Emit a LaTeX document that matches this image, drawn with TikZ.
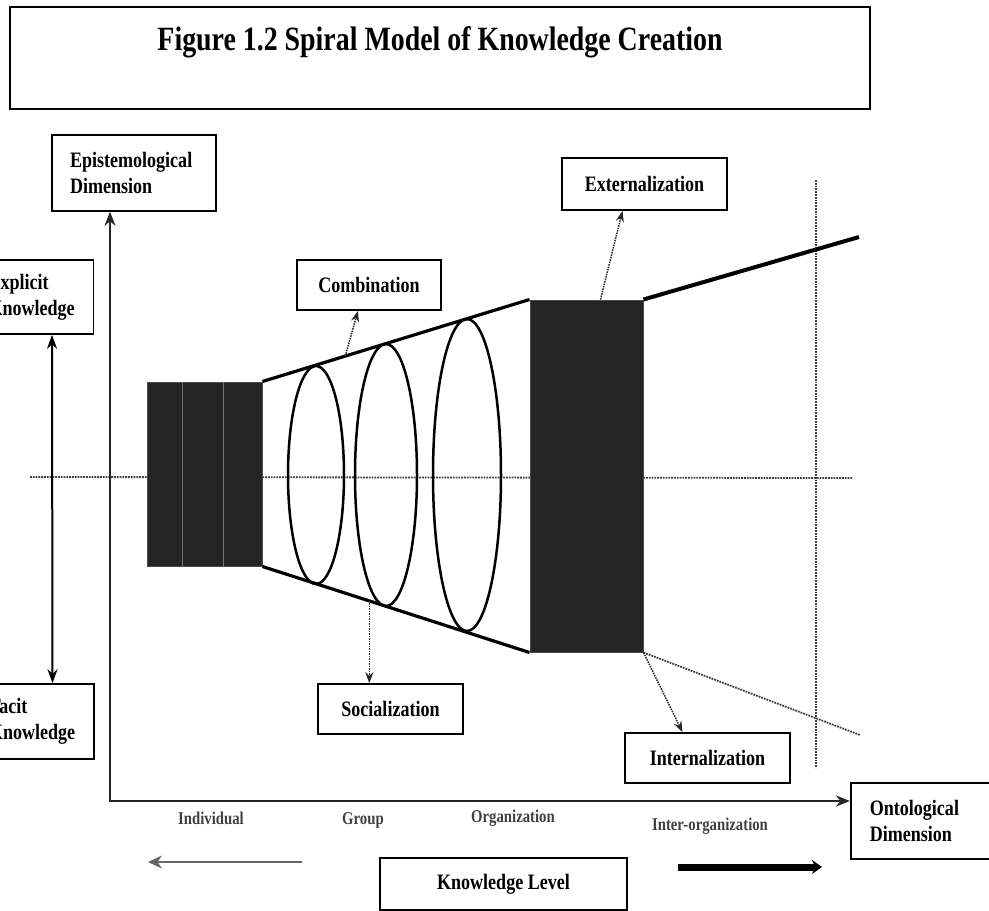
\documentclass[tikz,border=0pt]{standalone}
\usepackage{fontspec}
\setmainfont{Liberation Serif}[FakeStretch=0.82]
\usetikzlibrary{arrows.meta,calc}

\begin{document}
\begin{tikzpicture}[x=1pt, y=-1pt,
            box/.style = {draw, line width=1.6pt, font=\fontsize{22}{26}\selectfont\bfseries, inner sep=0pt},
            twoline/.style = {box, align=left, inner xsep=19pt},
            block/.style = {fill=black!86, draw=black!70, line width=1pt, inner sep=0pt},
            guide/.style = {densely dotted, line width=1.8pt, black!75},
            hint/.style = {densely dotted, line width=1.5pt, black!85, -{Stealth[length=11pt,width=8pt]}},
            level/.style = {font=\fontsize{18}{21}\selectfont\bfseries, text=black!75}]
            \useasboundingbox (0,0) rectangle (989,911);
            \node[box, minimum width=860pt, minimum height=102pt] (frame) at (440,58) {};
            \node[font=\fontsize{34}{40}\selectfont\bfseries] (title) at (440,42) {Figure 1.2 Spiral Model of Knowledge Creation};
            \node[twoline, text width=128pt, inner xsep=18pt, minimum height=76pt] (epi) at (134,173) {Epistemological\\Dimension};
            \node[twoline, text width=86pt, minimum height=74pt] (exp) at (31.5,297) {Explicit\\Knowledge};
            \node[twoline, text width=86pt, minimum height=75pt] (tac) at (32,721.5) {Tacit\\Knowledge};
            \node[twoline, text width=112pt, minimum height=76pt, anchor=west] (ont) at (850,821) {Ontological\\Dimension};
            \node[box, minimum width=144pt, minimum height=50pt] (comb) at (369,285) {Combination};
            \node[box, minimum width=165pt, minimum height=52pt] (ext) at (644.5,184) {Externalization};
            \node[box, minimum width=145pt, minimum height=50pt] (soc) at (390.5,709) {Socialization};
            \node[box, minimum width=165pt, minimum height=50pt] (int) at (707.5,758) {Internalization};
            \node[box, minimum width=247pt, minimum height=52pt] (lev) at (503.5,884) {Knowledge Level};
            \coordinate (origin) at (110,801);
            \coordinate (topend) at (859,237);
            \coordinate (lowend) at (860,735);
            \coordinate (midl) at (30,477);
            \coordinate (midr) at (853,478);
            \coordinate (vtop) at (816,180);
            \coordinate (vbot) at (816,768);
            \coordinate (lefta) at (302,862);
            \coordinate (leftb) at (148,862);
            \coordinate (righta) at (678,867);
            \coordinate (rightb) at (822,867);
            \draw[guide] (midl) -- (midr);
            \draw[guide] (vtop) -- (vbot);
            \foreach \cx/\rx/\ry in {316/28/109, 386/31/131, 467/34/156}
                \draw[line width=2.5pt] (\cx,475) ellipse [x radius=\rx, y radius=\ry];
            \node[block, minimum width=115pt, minimum height=184pt] (small) at (204.5,474) {};
            \node[block, minimum width=113pt, minimum height=352pt] (big) at (586.5,476) {};
            \foreach \f in {0.31,0.66}
                \draw[black!55, line width=1pt] ($(small.north west)!\f!(small.north east)$) -- ($(small.south west)!\f!(small.south east)$);
            \draw[line width=3.2pt] (small.north east) -- (big.north west);
            \draw[line width=3.2pt] (small.south east) -- (big.south west);
            \draw[line width=4pt] (big.north east) -- (topend);
            \draw[guide] (big.south east) -- (lowend);
            \coordinate (combpt) at ($(small.north east)!0.31!(big.north west)$);
            \coordinate (socpt) at ($(small.south east)!0.40!(big.south west)$);
            \draw[hint] (combpt) -- ([xshift=-11pt]comb.south);
            \draw[hint] ([xshift=14pt]big.north) -- ([xshift=-22pt]ext.south);
            \draw[hint] (socpt) -- (socpt |- soc.north);
            \draw[hint] (big.south east) -- ([xshift=-25pt]int.north);
            \draw[line width=2.4pt, black!85, {Stealth[length=14pt,width=11pt]}-{Stealth[length=14pt,width=11pt]}] (epi.south -| origin) -- (origin) -- (origin -| ont.west);
            \draw[line width=2pt, {Stealth[length=14pt,width=10pt]}-{Stealth[length=14pt,width=10pt]}] ([xshift=20.5pt]exp.south) -- ([xshift=20.5pt]tac.north);
            \node[level] (ind) at (211,818) {Individual};
            \node[level] (grp) at (363,820) {Group};
            \node[level] (org) at (513,818) {Organization};
            \node[level] (inter) at (710,826) {Inter-organization};
            \draw[line width=2.2pt, black!60, -{Stealth[length=14pt,width=13pt]}] (lefta) -- (leftb);
            \draw[line width=7pt, -{Stealth[length=10pt,width=14pt]}] (righta) -- (rightb);
        \end{tikzpicture}
\end{document}
